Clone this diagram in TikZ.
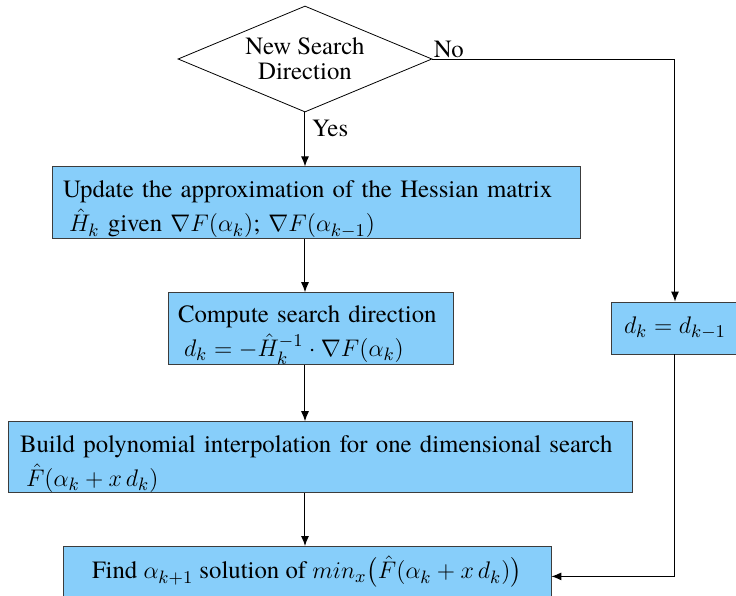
\documentclass[tikz,border=0pt]{standalone}
\usepackage[no-math]{fontspec}
\setmainfont{texgyretermes}[Extension=.otf, UprightFont=*-regular, BoldFont=*-bold, ItalicFont=*-italic, BoldItalicFont=*-bolditalic]
\usepackage{amsmath,amssymb}
\usepackage{tikz}
\usetikzlibrary{arrows.meta,positioning,shapes.geometric}
\definecolor{boxblue}{RGB}{135,206,250}
\definecolor{boxline}{RGB}{60,60,60}
\newcommand{\topgap}{\rule{0pt}{15pt}}

\begin{document}
\begin{tikzpicture}[x=0.5pt, y=-0.5pt,
  node distance=27pt,
  every node/.style={font=\fontsize{12.4}{17}\selectfont},
  decision/.style={diamond, draw, aspect=2.4, inner sep=0pt, minimum width=127pt, minimum height=53pt, align=center, font=\fontsize{12.4}{12.5}\selectfont},
  stepbox/.style={rectangle, draw=boxline, fill=boxblue, align=left, inner xsep=5.5pt, inner ysep=0pt},
  arr/.style={-{Latex[length=5pt, width=4pt]}, line width=0.5pt}]
\useasboundingbox (0,0) rectangle (736,596);
\node[decision] (newdir) at (305,59) {New Search\\Direction};
\node[stepbox, below=27pt of newdir, xshift=5.5pt, text width=253pt, minimum height=36pt] (update)
  {\topgap Update the approximation of the Hessian matrix\\ \hspace{3pt}$\hat{H}_k$ given $\nabla F(\alpha_k)$; $\nabla F(\alpha_{k-1})$};
\node[stepbox, below=26.5pt of update, xshift=-2.75pt, text width=132.5pt, minimum height=34.5pt, inner xsep=5pt] (search)
  {\topgap Compute search direction\\ \hspace{3pt}$d_k = -\hat{H}_k^{-1}\cdot\nabla F(\alpha_k)$};
\node[stepbox, below=28pt of search, xshift=4.75pt, text width=300pt, minimum height=35.5pt, inner xsep=6pt] (interp)
  {\topgap Build polynomial interpolation for one dimensional search\\ \hspace{3pt}$\hat{F}(\alpha_k + x\,d_k)$};
\node[stepbox, below=26.5pt of interp, xshift=-6.5pt, minimum width=244pt, minimum height=30pt, align=center, inner ysep=2pt] (find)
  {Find $\alpha_{k+1}$ solution of $min_x\big(\hat{F}(\alpha_k + x\,d_k)\big)$\rule[-9pt]{0pt}{1pt}};
\node[stepbox, minimum width=64pt, minimum height=26pt, align=center] (same) at (675,328) {$d_k = d_{k-1}$};
\coordinate (corner) at (newdir.east -| same.north);
\draw[arr] (newdir.south) -- node[right, pos=0.3] {Yes} (newdir.south |- update.north);
\draw[arr] (newdir.south |- update.south) -- (newdir.south |- search.north);
\draw[arr] (newdir.south |- search.south) -- (newdir.south |- interp.north);
\draw[arr] (newdir.south |- interp.south) -- (newdir.south |- find.north);
\draw[arr] (newdir.east) node[above right, inner sep=0.5pt] {No} -- (corner) -- (same.north);
\draw[arr] (same.south) |- (find.east);
\end{tikzpicture}
\end{document}
